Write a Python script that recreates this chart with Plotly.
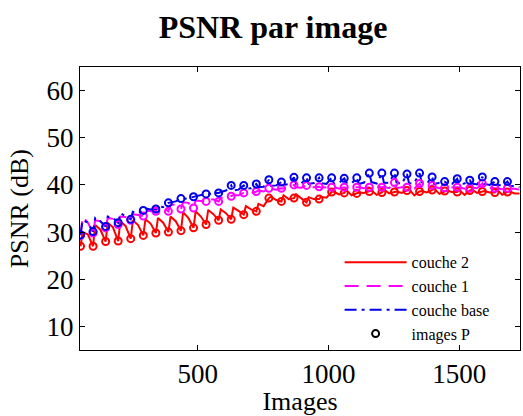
import plotly.graph_objects as go

# P-image frame indices (markers)
p_frames = [52, 100, 148, 196, 244, 292, 340, 388, 436, 484, 532, 580, 628, 676, 724,
            772, 820, 868, 916, 964, 1012, 1060, 1108, 1156, 1204, 1252, 1300, 1348,
            1396, 1444, 1492, 1540, 1588, 1636, 1684]

# frames where the curves are sampled (P frame, shortly after, mid GOP) + last frame
line_frames = [52, 60, 80, 100, 108, 128, 148, 156, 176, 196, 204, 224, 244, 252, 272,
               292, 300, 320, 340, 348, 368, 388, 396, 416, 436, 444, 464, 484, 492, 512,
               532, 540, 560, 580, 588, 608, 628, 636, 656, 676, 684, 704, 724, 732, 752,
               772, 780, 800, 820, 828, 848, 868, 876, 896, 916, 924, 944, 964, 972, 992,
               1012, 1020, 1040, 1060, 1068, 1088, 1108, 1116, 1136, 1156, 1164, 1184,
               1204, 1212, 1232, 1252, 1260, 1280, 1300, 1308, 1328, 1348, 1356, 1376,
               1396, 1404, 1424, 1444, 1452, 1472, 1492, 1500, 1520, 1540, 1548, 1568,
               1588, 1596, 1616, 1636, 1644, 1664, 1684, 1692, 1712, 1730]

# couche 2 (red)
red_p = [27.0, 27.0, 28.0, 28.1, 28.6, 29.3, 29.8, 30.0, 30.3, 30.9, 31.6, 32.5, 32.7, 33.7, 34.4,
         37.2, 36.5, 37.2, 36.3, 37.0, 38.5, 38.3, 38.2, 38.6, 38.4, 38.5, 38.8, 38.6, 38.9, 38.7,
         38.5, 38.8, 38.6, 38.4, 38.5]
red_a = [30.0, 31.5, 32.0, 32.3, 32.5, 32.7, 33.0, 33.3, 34.2, 34.4, 34.7, 34.8, 35.2, 35.5, 36.0,
         37.5, 37.8, 38.0, 37.4, 37.5, 38.6, 38.9, 38.4, 38.8, 39.0, 38.6, 39.1, 38.7, 39.2, 38.8,
         38.9, 39.0, 38.7, 39.0, 38.6]
red_b = [29.5, 30.5, 31.0, 31.3, 31.5, 31.8, 32.0, 32.3, 33.0, 33.3, 33.8, 34.0, 34.5, 34.8, 35.5,
         36.8, 37.0, 37.2, 37.0, 37.3, 38.0, 37.8, 38.3, 37.9, 38.2, 38.3, 37.8, 38.4, 38.1, 38.5,
         37.9, 38.3, 38.4, 37.9, 38.2]
red_end = 38.2

# couche 1 (magenta)
mag_p = [29.3, 29.8, 30.9, 31.6, 32.5, 33.4, 34.4, 34.4, 34.9, 35.1, 36.5, 36.5, 37.6, 38.3, 38.6,
         39.3, 39.3, 40.0, 39.9, 39.6, 39.5, 39.5, 39.5, 39.5, 39.5, 40.5, 39.5, 40.3, 39.9, 39.4,
         39.5, 39.3, 40.3, 39.3, 39.3]
mag_a = [33.2, 32.5, 33.0, 33.3, 33.8, 34.5, 35.3, 35.8, 36.3, 36.7, 37.0, 37.3, 37.8, 38.3, 38.8,
         39.2, 39.3, 39.5, 39.6, 39.4, 39.6, 39.3, 39.5, 39.4, 39.6, 39.3, 39.5, 39.2, 39.6, 39.3,
         39.5, 39.4, 39.2, 39.3, 39.2]
mag_b = [32.0, 32.3, 32.8, 33.2, 33.6, 34.5, 35.2, 35.8, 36.2, 36.6, 36.9, 37.3, 37.8, 38.2, 38.6,
         39.0, 39.2, 39.4, 39.5, 39.5, 39.2, 39.5, 39.3, 39.6, 39.3, 39.5, 39.2, 39.4, 39.3, 39.5,
         39.2, 39.3, 39.4, 39.1, 39.2]
mag_end = 39.0

# couche base (blue)
blue_p = [29.4, 30.1, 31.2, 32.0, 32.7, 34.6, 34.9, 36.2, 37.1, 37.5, 38.1, 38.3, 39.9, 39.9, 40.2,
          41.1, 40.6, 41.6, 41.5, 41.5, 41.5, 41.4, 41.5, 42.5, 42.5, 42.5, 42.3, 42.5, 41.7, 40.7,
          41.3, 41.0, 41.7, 40.7, 40.7]
blue_a = [32.5, 33.0, 33.3, 34.0, 34.3, 35.0, 35.5, 36.3, 37.0, 37.5, 38.0, 38.5, 38.8, 39.2, 39.5,
          39.8, 40.0, 40.2, 40.2, 40.4, 40.3, 40.5, 40.2, 40.6, 40.4, 40.5, 40.3, 40.6, 40.2, 40.4,
          40.1, 40.3, 40.2, 40.0, 39.8]
blue_b = [32.0, 32.3, 33.0, 33.3, 34.0, 34.8, 35.3, 36.5, 37.2, 37.8, 38.3, 38.8, 39.0, 39.3, 39.6,
          39.9, 40.2, 40.3, 40.4, 40.2, 40.4, 40.3, 40.5, 40.3, 40.5, 40.2, 40.4, 40.3, 40.5, 40.2,
          40.3, 40.1, 40.0, 39.9, 39.7]
blue_end = 39.5

x_ticks = [500, 1000, 1500]
y_ticks = [10, 20, 30, 40, 50, 60]


def assemble(p, a, b, end):
    out = []
    for v1, v2, v3 in zip(p, a, b):
        out += [v1, v2, v3]
    out.append(end)
    return out


red_line = assemble(red_p, red_a, red_b, red_end)
mag_line = assemble(mag_p, mag_a, mag_b, mag_end)
blue_line = assemble(blue_p, blue_a, blue_b, blue_end)

RED, MAG, BLUE = "rgb(255,0,0)", "rgb(255,0,255)", "rgb(0,0,235)"
LW = 2

fig = go.Figure()
fig.add_trace(go.Scatter(x=line_frames, y=red_line, mode="lines", name="couche 2",
                         line=dict(color=RED, width=LW)))
fig.add_trace(go.Scatter(x=line_frames, y=mag_line, mode="lines", name="couche 1",
                         line=dict(color=MAG, width=LW, dash="14px,8px")))
fig.add_trace(go.Scatter(x=line_frames, y=blue_line, mode="lines", name="couche base",
                         line=dict(color=BLUE, width=LW, dash="12px,5px,3px,5px")))
mk = dict(symbol="circle-open", size=7, line=dict(width=2))
fig.add_trace(go.Scatter(x=p_frames, y=red_p, mode="markers", showlegend=False,
                         marker=dict(color=RED, **mk)))
fig.add_trace(go.Scatter(x=p_frames, y=mag_p, mode="markers", showlegend=False,
                         marker=dict(color=MAG, **mk)))
fig.add_trace(go.Scatter(x=p_frames, y=blue_p, mode="markers", showlegend=False,
                         marker=dict(color=BLUE, **mk)))
fig.add_trace(go.Scatter(x=[None], y=[None], mode="markers", name="images P",
                         marker=dict(color="black", **mk)))

axis_common = dict(showgrid=False, zeroline=False, showline=True, linecolor="black",
                   linewidth=1, mirror="ticks", ticks="inside", ticklen=5,
                   tickcolor="black", tickfont=dict(size=27, color="black"),
                   automargin=False)

fig.update_layout(
    width=523, height=416,
    margin=dict(l=80, r=3, t=67, b=66),
    paper_bgcolor="white", plot_bgcolor="white",
    font=dict(family="Liberation Serif", color="black"),
    title=dict(text="<b>PSNR par image</b>", xref="container", x=0.522, xanchor="center",
               yref="container", y=0.935, yanchor="middle", font=dict(size=32)),
    xaxis=dict(range=[50, 1732], tickvals=x_ticks, ticklabelstandoff=0,
               title=dict(text="Images", font=dict(size=26), standoff=0), **axis_common),
    yaxis=dict(range=[5, 65], tickvals=y_ticks, ticklabelstandoff=0, **axis_common),
    annotations=[dict(text="PSNR (dB)", textangle=-90, xref="paper", yref="paper",
                      x=-0.137, y=0.5, xanchor="center", yanchor="middle",
                      showarrow=False, font=dict(size=26))],
    legend=dict(x=0.59, y=0.37, xanchor="left", yanchor="top", bgcolor="rgba(0,0,0,0)",
                font=dict(size=16), itemwidth=62, tracegroupgap=0),
    showlegend=True,
)

fig.write_html("out.html", config={"displayModeBar": False},
               post_script="document.body.style.margin='0';")
